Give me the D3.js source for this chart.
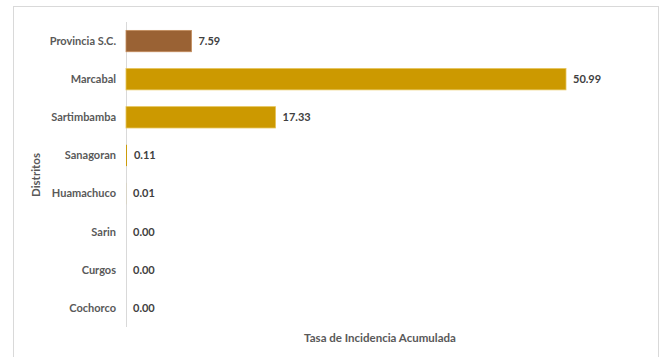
<!DOCTYPE html>
<html><head><meta charset="utf-8">
<script src="https://cdn.jsdelivr.net/npm/d3@7"></script>
<style>
html,body{margin:0;padding:0;background:#fff;}
svg{display:block;font-family:Lato,"Open Sans",sans-serif;}
</style></head>
<body><svg id="c" width="662" height="357"></svg>
<script>
const categories = ["Provincia S.C.","Marcabal","Sartimbamba","Sanagoran","Huamachuco","Sarin","Curgos","Cochorco"];
const values = [7.59, 50.99, 17.33, 0.11, 0.01, 0.00, 0.00, 0.00];
const labels = ["7.59","50.99","17.33","0.11","0.01","0.00","0.00","0.00"];
const barColors = ["#9A6234","#CC9900","#CC9900","#CC9900","#CC9900","#CC9900","#CC9900","#CC9900"];
const xTitle = "Tasa de Incidencia Acumulada";
const yTitle = "Distritos";

const svg = d3.select("#c");
// frame
svg.append("rect").attr("x",13.5).attr("y",6.5).attr("width",645).attr("height",360)
  .attr("fill","#fff").attr("stroke","#d9d9d9").attr("stroke-width",1);

const x0 = 126;
const x = d3.scaleLinear().domain([0, 50.99]).range([x0, 566]);
const y = d3.scaleBand().domain(categories).range([22, 327]).paddingInner(0.44).paddingOuter(0.22);

const textColor = "#595959";

// axis line
svg.append("line").attr("x1",x0+0.5).attr("x2",x0+0.5).attr("y1",22).attr("y2",327)
  .attr("stroke","#d9d9d9").attr("stroke-width",1);

svg.selectAll("rect.bar").data(values).enter().append("rect")
  .attr("class","bar")
  .attr("x", x0)
  .attr("y", (d,i)=>y(categories[i]))
  .attr("width", d=>Math.max(0, x(d)-x0))
  .attr("height", y.bandwidth())
  .attr("fill", (d,i)=>barColors[i])
  .attr("stroke", (d,i)=> i===0 ? "#c48d5c" : "#e6c45a")
  .attr("stroke-width", d => x(d)-x0 > 2 ? 0.8 : 0);

// category labels
svg.selectAll("text.cat").data(categories).enter().append("text")
  .attr("class","cat")
  .attr("x", 116)
  .attr("y", d=>y(d)+y.bandwidth()/2)
  .attr("dy","0.35em")
  .attr("text-anchor","end")
  .attr("font-size",11).attr("font-weight",700)
  .attr("fill",textColor)
  .text(d=>d);

// value labels
svg.selectAll("text.val").data(values).enter().append("text")
  .attr("class","val")
  .attr("x", d=>x(d)+7)
  .attr("y", (d,i)=>y(categories[i])+y.bandwidth()/2)
  .attr("dy","0.35em")
  .attr("font-size",11).attr("font-weight",700)
  .attr("fill","#404040")
  .text((d,i)=>labels[i]);

// axis titles
svg.append("text").attr("x",380).attr("y",342)
  .attr("text-anchor","middle").attr("font-size",11.5).attr("font-weight",700)
  .attr("fill",textColor).text(xTitle);
svg.append("text").attr("transform","translate(40,175) rotate(-90)")
  .attr("text-anchor","middle").attr("font-size",11.5).attr("font-weight",700)
  .attr("fill",textColor).text(yTitle);
</script></body></html>
